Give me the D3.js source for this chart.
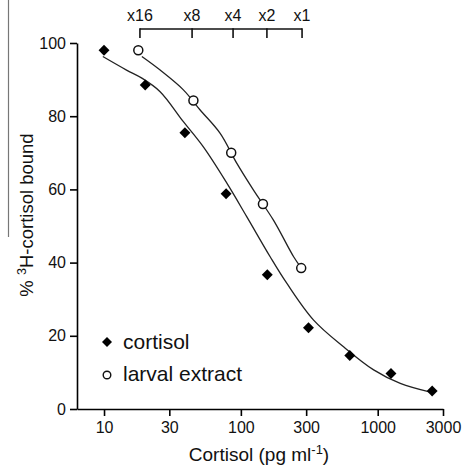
<!DOCTYPE html>
<html><head><meta charset="utf-8">
<script src="https://cdn.jsdelivr.net/npm/d3@7"></script>
<style>
html,body{margin:0;padding:0;background:#fff;}
text{font-family:"Liberation Sans",Arial,sans-serif;fill:#111;}
</style></head>
<body><svg id="c" width="466" height="473"></svg>
<script>
// ---- data ----
const cortisolConc = [10, 20, 39, 78, 156, 312, 625, 1250, 2500];
const cortisolBound = [98, 88.5, 75.5, 58.8, 36.7, 22.2, 14.6, 9.7, 4.9];
const larvalConc = [17.8, 45, 85, 145, 276];
const larvalBound = [98, 84.3, 70, 56, 38.5];
// fitted curves
const cortisolFitConc = [9.8, 14.6, 18.9, 25.7, 38, 53.2, 79, 110.6, 163.7, 217, 340, 563, 934, 1462, 2430];
const cortisolFitBound = [96.3, 92.6, 90.4, 86.7, 78.5, 71.6, 61.7, 52.5, 41.6, 34.3, 24.3, 17.0, 10.7, 7.0, 4.6];
const larvalFitConc = [18.9, 25.7, 38, 50.4, 70.6, 93.5, 123.7, 173, 243, 272];
const larvalFitBound = [96.3, 92.6, 87.2, 81.7, 75.3, 67.1, 59.8, 51.6, 41.6, 38.9];
const xTicks = [10, 30, 100, 300, 1000, 3000];
const yTicks = [0, 20, 40, 60, 80, 100];
const dilutionLabels = ["x16", "x8", "x4", "x2", "x1"];
const dilutionConc = [18.3, 44, 87.7, 155, 280];
const legendLabels = ["cortisol", "larval extract"];

const svg = d3.select("#c");
const x = d3.scaleLog().domain([Math.pow(10, 0.8025), 3000]).range([77, 443]);
const y = d3.scaleLinear().domain([0, 100]).range([409, 43]);

// stray frame line on the left
svg.append("line").attr("x1", 8.5).attr("x2", 8.5).attr("y1", 0).attr("y2", 237)
  .attr("stroke", "#777").attr("stroke-width", 1.2);

// axes
const xAxis = d3.axisBottom(x).tickValues(xTicks).tickFormat(d3.format("d")).tickSizeOuter(0).tickSizeInner(7).tickPadding(5);
const gx = svg.append("g").attr("transform", "translate(0,409)").call(xAxis);
gx.selectAll("text").style("font-size", "16px").attr("dy", "0.75em");
gx.select(".domain").attr("stroke-width", 1.6);
gx.selectAll(".tick line").attr("stroke-width", 1.6);

const yAxis = d3.axisLeft(y).tickValues(yTicks).tickSizeOuter(0).tickSizeInner(7).tickPadding(4);
const gy = svg.append("g").attr("transform", "translate(77,0)").call(yAxis);
gy.selectAll("text").style("font-size", "16px");
gy.select(".domain").attr("stroke-width", 1.6);
gy.selectAll(".tick line").attr("stroke-width", 1.6);

// top dilution bracket axis
const topAxis = svg.append("g");
topAxis.append("line").attr("x1", x(dilutionConc[0])).attr("x2", x(dilutionConc[dilutionConc.length - 1]))
  .attr("y1", 29).attr("y2", 29).attr("stroke", "#111").attr("stroke-width", 1.6);
dilutionConc.forEach((c, i) => {
  topAxis.append("line").attr("x1", x(c)).attr("x2", x(c)).attr("y1", 28.2).attr("y2", 38)
    .attr("stroke", "#111").attr("stroke-width", 1.6);
  topAxis.append("text").attr("x", x(c)).attr("y", 21).attr("text-anchor", "middle")
    .style("font-size", "16px").text(dilutionLabels[i]);
});

// curves
const line = d3.line().x(d => x(d[0])).y(d => y(d[1])).curve(d3.curveCatmullRom);
svg.append("path").datum(cortisolFitConc.map((c, i) => [c, cortisolFitBound[i]]))
  .attr("d", line).attr("fill", "none").attr("stroke", "#222").attr("stroke-width", 1.3);
svg.append("path").datum(larvalFitConc.map((c, i) => [c, larvalFitBound[i]]))
  .attr("d", line).attr("fill", "none").attr("stroke", "#222").attr("stroke-width", 1.3);

// points
const diamond = d3.symbol().type(d3.symbolSquare).size(60);
svg.append("g").selectAll("path").data(cortisolConc.map((c, i) => [c, cortisolBound[i]])).join("path")
  .attr("d", diamond).attr("transform", d => `translate(${x(d[0])},${y(d[1])}) rotate(45)`)
  .attr("fill", "#000");
svg.append("g").selectAll("circle").data(larvalConc.map((c, i) => [c, larvalBound[i]])).join("circle")
  .attr("cx", d => x(d[0])).attr("cy", d => y(d[1])).attr("r", 4.5)
  .attr("fill", "#fff").attr("stroke", "#111").attr("stroke-width", 1.5);

// legend
svg.append("path").attr("d", d3.symbol().type(d3.symbolSquare).size(50)).attr("transform", "translate(107,342) rotate(45)").attr("fill", "#000");
svg.append("circle").attr("cx", 107).attr("cy", 375).attr("r", 3.8).attr("fill", "#fff").attr("stroke", "#111").attr("stroke-width", 1.4);
svg.append("text").attr("x", 123).attr("y", 348.5).style("font-size", "21px").text(legendLabels[0]);
svg.append("text").attr("x", 123).attr("y", 381).style("font-size", "21px").text(legendLabels[1]);

// axis titles
const xt = svg.append("text").attr("x", 259).attr("y", 461).attr("text-anchor", "middle").style("font-size", "19px");
xt.append("tspan").text("Cortisol (pg ml");
xt.append("tspan").attr("dy", -7).style("font-size", "13px").text("-1");
xt.append("tspan").attr("dy", 7).text(")");

const yt = svg.append("text").attr("transform", "translate(33,215) rotate(-90)").attr("text-anchor", "middle").style("font-size", "18.5px");
yt.append("tspan").text("% ");
yt.append("tspan").attr("dy", -7).style("font-size", "12.5px").text("3");
yt.append("tspan").attr("dy", 7).text("H-cortisol bound");
</script></body></html>
